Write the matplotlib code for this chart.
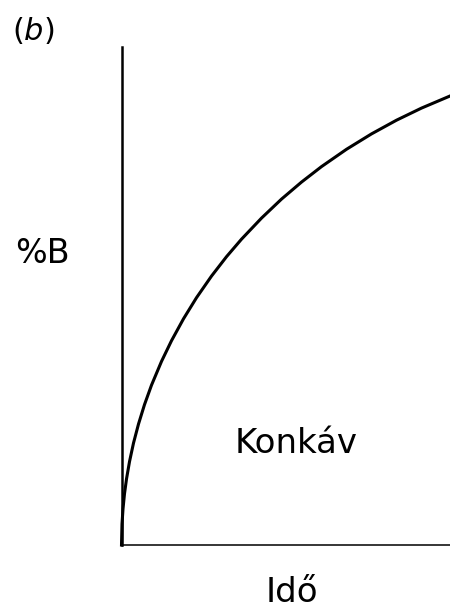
"""Concave gradient profile: %B against time."""

import matplotlib.pyplot as plt
import numpy as np

# time (0-100) and %B (0-100)
ido = [0.0, 0.15, 0.46, 0.91, 1.52, 2.44, 3.65, 5.18, 7.00, 9.13, 12.18,
       15.22, 18.87, 22.83, 27.40, 31.96, 36.53, 42.62, 48.71, 54.79,
       60.88, 68.49, 76.10, 83.71, 91.32, 100.0]
szazalek_b = [0.0, 4.20, 7.27, 10.28, 13.25, 16.75, 20.46, 24.30, 28.19,
              32.09, 36.87, 41.02, 45.42, 49.66, 54.00, 57.89, 61.41, 65.64,
              69.46, 72.87, 75.98, 79.46, 82.55, 85.30, 87.73, 90.16]

W, H = 450, 610

fig = plt.figure(figsize=(W / 100, H / 100), dpi=100)
ax = fig.add_axes([121.5 / W, 1 - 545 / H, (W - 121.5) / W, 498 / H])
ax.plot(np.array(ido), np.array(szazalek_b), color="black", lw=2.2,
        solid_joinstyle="round", clip_on=False)
ax.set_xlim(0, 100)
ax.set_ylim(0, 100)
ax.set_xticks([])
ax.set_yticks([])
for side in ("top", "right"):
    ax.spines[side].set_visible(False)
ax.spines["left"].set_linewidth(1.8)
ax.spines["bottom"].set_linewidth(1.1)

fs = 24.5
fig.text(12 / W, 1 - 40 / H, r"($\mathit{b}$)", fontsize=22, va="baseline")
fig.text(15 / W, 1 - 263 / H, "%B", fontsize=24, va="baseline")
fig.text(296 / W, 1 - 453 / H, "Konkáv", fontsize=fs, ha="center",
         va="baseline")
fig.text(291.5 / W, 1 - 602 / H, "Idő", fontsize=fs, ha="center",
         va="baseline")

fig.savefig("out.png", dpi=100)
